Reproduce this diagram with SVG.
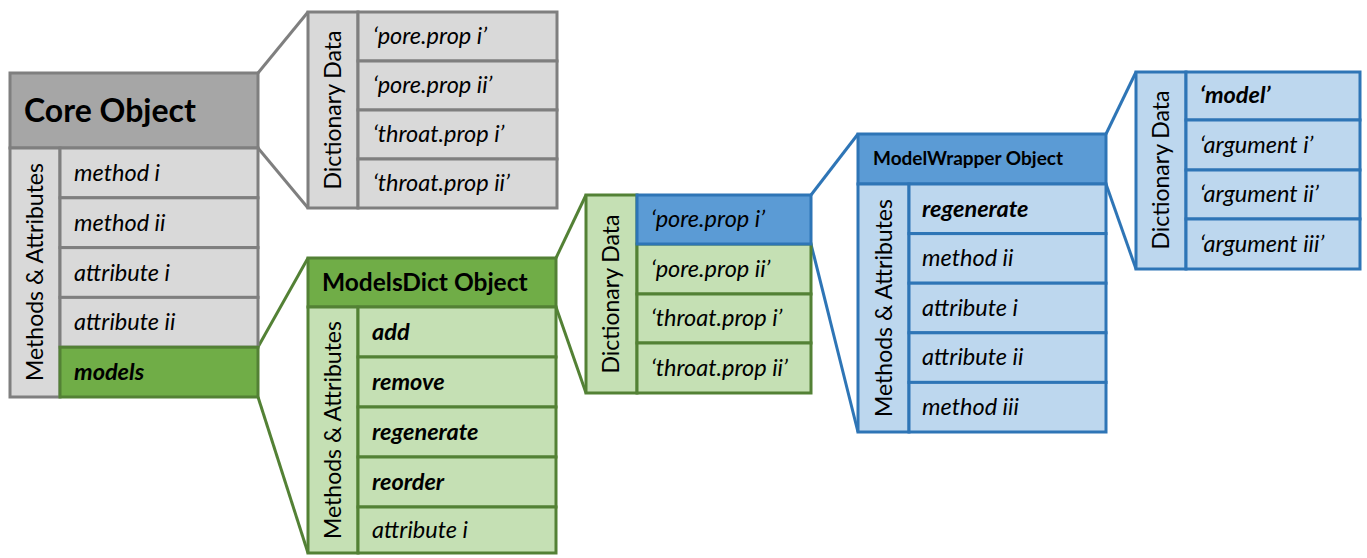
<svg xmlns="http://www.w3.org/2000/svg" width="1367" height="558" viewBox="0 0 1367 558">
<style>
text{font-family:Lato,"Liberation Sans",sans-serif;fill:#000}
.it{font-style:italic;font-size:23.5px}
.bi{font-style:italic;font-weight:bold;font-size:23.5px}
.vt{font-size:23px}
.g rect{stroke:#7F7F7F;stroke-width:3}
.gr rect{stroke:#538135;stroke-width:3}
.bl rect{stroke:#2E75B6;stroke-width:3}
.gh{fill:#A6A6A6}.gl{fill:#D9D9D9}
.grh{fill:#70AD47}.grl{fill:#C5E0B4}
.blh{fill:#5B9BD5}.bll{fill:#BDD7EE}
.cg{stroke:#7F7F7F;stroke-width:3;fill:none}
.cgr{stroke:#538135;stroke-width:3;fill:none}
.cbl{stroke:#2E75B6;stroke-width:3;fill:none}
</style>
<rect width="1367" height="558" fill="#fff"/>
<g id="connectors">
<line class="cg" x1="258" y1="73" x2="308" y2="12"/>
<line class="cg" x1="258" y1="148" x2="308" y2="208"/>
<line class="cgr" x1="258" y1="347" x2="308" y2="258"/>
<line class="cgr" x1="258" y1="397" x2="308" y2="553"/>
<line class="cgr" x1="556" y1="258" x2="586" y2="195"/>
<line class="cgr" x1="556" y1="307" x2="586" y2="393"/>
<line class="cbl" x1="811" y1="195" x2="858" y2="134"/>
<line class="cbl" x1="811" y1="244" x2="858" y2="432"/>
<line class="cbl" x1="1106" y1="134" x2="1136" y2="72"/>
<line class="cbl" x1="1106" y1="184" x2="1136" y2="269"/>
</g>
<g id="core-object" class="g">
<rect class="gh" x="10" y="73" width="248" height="75"/>
<rect class="gl" x="10" y="148" width="50" height="249"/>
<rect class="gl" x="60" y="148" width="198" height="49.8"/>
<rect class="gl" x="60" y="197.8" width="198" height="49.8"/>
<rect class="gl" x="60" y="247.6" width="198" height="49.8"/>
<rect class="gl" x="60" y="297.4" width="198" height="49.8"/>
<text x="24" y="122" font-size="32" font-weight="bold">Core Object</text>
<text class="vt" transform="translate(43,272) rotate(-90)" text-anchor="middle">Methods &amp; Attributes</text>
<text class="it" x="74" y="181">method i</text>
<text class="it" x="74" y="231">method ii</text>
<text class="it" x="74" y="281">attribute i</text>
<text class="it" x="74" y="330">attribute ii</text>
</g>
<g id="models-attr" class="gr">
<rect class="grh" x="60" y="347.2" width="198" height="49.8"/>
<text class="bi" x="74" y="380">models</text>
</g>
<g id="core-dictionary" class="g">
<rect class="gl" x="308" y="12" width="50" height="196"/>
<rect class="gl" x="358" y="12" width="199" height="49"/>
<rect class="gl" x="358" y="61" width="199" height="49"/>
<rect class="gl" x="358" y="110" width="199" height="49"/>
<rect class="gl" x="358" y="159" width="199" height="49"/>
<text class="vt" transform="translate(341,110) rotate(-90)" text-anchor="middle">Dictionary Data</text>
<text class="it" x="373" y="44">‘pore.prop i’</text>
<text class="it" x="373" y="93">‘pore.prop ii’</text>
<text class="it" x="373" y="142">‘throat.prop i’</text>
<text class="it" x="373" y="191">‘throat.prop ii’</text>
</g>
<g id="modelsdict-object" class="gr">
<rect class="grh" x="308" y="258" width="248" height="49"/>
<rect class="grl" x="308" y="307" width="50" height="246"/>
<rect class="grl" x="358" y="307" width="198" height="50"/>
<rect class="grl" x="358" y="357" width="198" height="50"/>
<rect class="grl" x="358" y="407" width="198" height="50"/>
<rect class="grl" x="358" y="457" width="198" height="50"/>
<rect class="grl" x="358" y="507" width="198" height="46"/>
<text x="322" y="291" font-size="24.5" font-weight="bold">ModelsDict Object</text>
<text class="vt" transform="translate(341,430) rotate(-90)" text-anchor="middle">Methods &amp; Attributes</text>
<text class="bi" x="372" y="340">add</text>
<text class="bi" x="372" y="390">remove</text>
<text class="bi" x="372" y="440">regenerate</text>
<text class="bi" x="372" y="490">reorder</text>
<text class="it" x="372" y="538">attribute i</text>
</g>
<g id="modelsdict-dictionary" class="gr">
<rect class="grl" x="586" y="195" width="51" height="198"/>
<rect class="grl" x="637" y="244" width="174" height="50"/>
<rect class="grl" x="637" y="294" width="174" height="49"/>
<rect class="grl" x="637" y="343" width="174" height="50"/>
<text class="vt" transform="translate(619,294) rotate(-90)" text-anchor="middle">Dictionary Data</text>
<text class="it" x="651" y="277">‘pore.prop ii’</text>
<text class="it" x="651" y="326">‘throat.prop i’</text>
<text class="it" x="651" y="376">‘throat.prop ii’</text>
</g>
<g id="pore-prop-i" class="bl">
<rect class="blh" x="637" y="195" width="174" height="49"/>
<text class="it" x="651" y="227">‘pore.prop i’</text>
</g>
<g id="modelwrapper-object" class="bl">
<rect class="blh" x="858" y="134" width="248" height="50"/>
<rect class="bll" x="858" y="184" width="51" height="248"/>
<rect class="bll" x="909" y="184" width="197" height="49.6"/>
<rect class="bll" x="909" y="233.6" width="197" height="49.6"/>
<rect class="bll" x="909" y="283.2" width="197" height="49.6"/>
<rect class="bll" x="909" y="332.8" width="197" height="49.6"/>
<rect class="bll" x="909" y="382.4" width="197" height="49.6"/>
<text x="873" y="165" font-size="19" font-weight="bold">ModelWrapper Object</text>
<text class="vt" transform="translate(892,308) rotate(-90)" text-anchor="middle">Methods &amp; Attributes</text>
<text class="bi" x="922" y="217">regenerate</text>
<text class="it" x="922" y="266">method ii</text>
<text class="it" x="922" y="316">attribute i</text>
<text class="it" x="922" y="365">attribute ii</text>
<text class="it" x="922" y="415">method iii</text>
</g>
<g id="modelwrapper-dictionary" class="bl">
<rect class="bll" x="1136" y="72" width="50" height="197"/>
<rect class="bll" x="1186" y="72" width="174" height="48"/>
<rect class="bll" x="1186" y="120" width="174" height="50"/>
<rect class="bll" x="1186" y="170" width="174" height="49"/>
<rect class="bll" x="1186" y="219" width="174" height="50"/>
<text class="vt" transform="translate(1169,170) rotate(-90)" text-anchor="middle">Dictionary Data</text>
<text class="bi" x="1200" y="103">‘model’</text>
<text class="it" x="1200" y="153">‘argument i’</text>
<text class="it" x="1200" y="202">‘argument ii’</text>
<text class="it" x="1200" y="252">‘argument iii’</text>
</g>
</svg>
